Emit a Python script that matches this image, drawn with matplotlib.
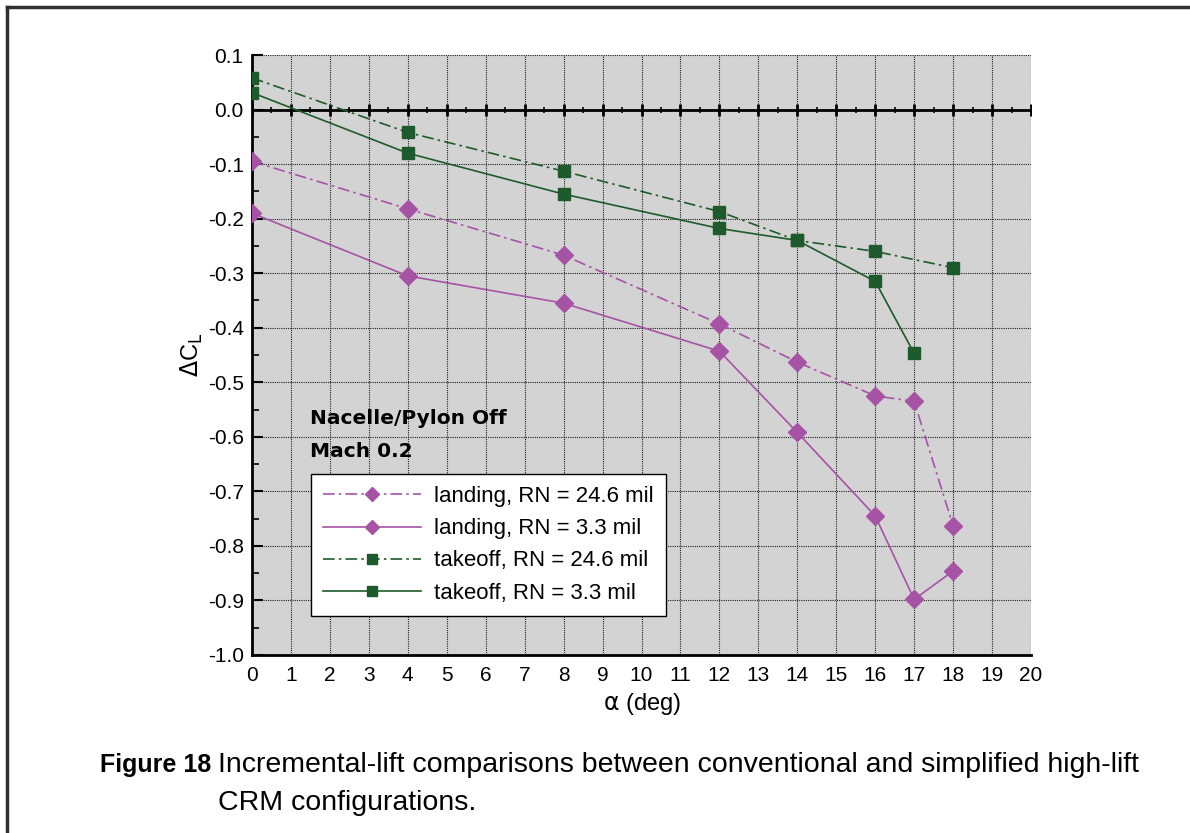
import numpy as np
import matplotlib
matplotlib.use("Agg")
import matplotlib.pyplot as plt
from matplotlib.lines import Line2D

plt.rcParams['font.family'] = ['Liberation Sans', 'DejaVu Sans']

# data
alphaLand = [0, 4, 8, 12, 14, 16, 17, 18]
landHighRN = [-0.095, -0.182, -0.267, -0.393, -0.463, -0.525, -0.535, -0.763]
landLowRN = [-0.190, -0.305, -0.355, -0.443, -0.592, -0.745, -0.898, -0.846]

alphaTakeoffHigh = [0, 4, 8, 12, 14, 16, 18]
takeoffHighRN = [0.058, -0.042, -0.113, -0.187, -0.240, -0.260, -0.290]
alphaTakeoffLow = [0, 4, 8, 12, 14, 16, 17]
takeoffLowRN = [0.031, -0.080, -0.155, -0.218, -0.240, -0.315, -0.447]

labels = ["landing, RN = 24.6 mil", "landing, RN = 3.3 mil",
          "takeoff, RN = 24.6 mil", "takeoff, RN = 3.3 mil"]

purple = '#a653a6'
green = '#1d5b2c'
dashdot = (0, (7, 2.5, 1.5, 2.5))

fig = plt.figure(figsize=(11.9, 8.33), dpi=100)
ax = fig.add_axes([252/1190, 1-655/833, 779/1190, 600/833])
ax.set_facecolor('#d3d3d3')

ax.plot(alphaLand, landHighRN, color=purple, ls=dashdot, lw=1.2, marker='D', ms=9,
        label=labels[0], zorder=5)
ax.plot(alphaLand, landLowRN, color=purple, ls='-', lw=1.2, marker='D', ms=9,
        label=labels[1], zorder=5)
ax.plot(alphaTakeoffHigh, takeoffHighRN, color=green, ls=dashdot, lw=1.2, marker='s', ms=8.5,
        label=labels[2], zorder=5)
ax.plot(alphaTakeoffLow, takeoffLowRN, color=green, ls='-', lw=1.2, marker='s', ms=8.5,
        label=labels[3], zorder=5)

yticks = np.round(np.arange(-1.0, 0.11, 0.1), 1)
ax.set_xlim(0, 20)
ax.set_ylim(-1.0, 0.1)
ax.set_xticks(np.arange(0, 21, 1))
ax.set_yticks(yticks)
ax.set_yticks(np.arange(-0.95, 0.1, 0.1), minor=True)
ax.set_yticklabels(['%.1f' % (v + 0.0) for v in yticks])
ax.grid(True, which='major', color='#202020', ls=(0, (1, 1)), lw=0.8, zorder=1)
ax.set_axisbelow(True)

ax.tick_params(axis='y', which='major', direction='in', length=8, width=1.5,
               labelsize=15, pad=6)
ax.tick_params(axis='y', which='minor', direction='in', length=5, width=1.2)
ax.tick_params(axis='x', which='major', direction='in', length=0, labelsize=15, pad=8)
for s in ['top', 'right']:
    ax.spines[s].set_visible(False)
for s in ['left', 'bottom']:
    ax.spines[s].set_linewidth(2)

# zero line with its own tick marks
ax.axhline(0, color='black', lw=2, zorder=3)
ax.plot(np.arange(0, 21, 1), np.zeros(21), ls='none', marker='|', ms=9, mew=2,
        color='black', zorder=3)
ax.plot(np.arange(0.5, 20, 1), np.zeros(20), ls='none', marker='|', ms=5, mew=1.2,
        color='black', zorder=3)

ax.set_xlabel(r'$\mathrm{\alpha}$ (deg)', fontsize=17, labelpad=4)
ax.set_ylabel(r'$\Delta$C$_\mathrm{L}$', fontsize=17, labelpad=2)

ax.text(1.5, -0.567, 'Nacelle/Pylon Off', fontsize=14.5, fontweight='bold',
        family='DejaVu Sans', va='center', zorder=6)
ax.text(1.5, -0.627, 'Mach 0.2', fontsize=14.5, fontweight='bold',
        family='DejaVu Sans', va='center', zorder=6)

leg = ax.legend(loc='upper left', bbox_to_anchor=(59/779, 181/600), borderaxespad=0,
                fontsize=16, markerscale=0.8, handlelength=4.4, handletextpad=0.6,
                fancybox=False, edgecolor='black', framealpha=1, borderpad=0.55,
                labelspacing=0.5)
leg.get_frame().set_linewidth(1.0)
leg.set_zorder(7)

# caption and frame
fig.add_artist(Line2D([7/1190, 7/1190], [0, 1-7/833], color='#303030', lw=2.5))
fig.add_artist(Line2D([7/1190, 1], [1-7/833, 1-7/833], color='#303030', lw=2.5))
fig.text(100/1190, 1-765/833, 'Figure 18', fontsize=18, fontweight='bold', va='center')
fig.text(218/1190, 1-765/833,
         'Incremental-lift comparisons between conventional and simplified high-lift',
         fontsize=20.5, va='center')
fig.text(218/1190, 1-803/833, 'CRM configurations.', fontsize=20.5, va='center')

fig.savefig('out.png', dpi=100)
